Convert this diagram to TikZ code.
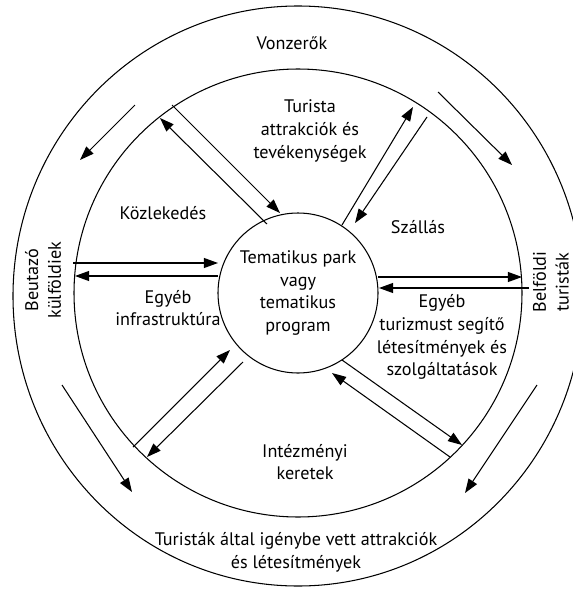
\documentclass[tikz,border=0pt]{standalone}
\usepackage{fontspec}
\setmainfont{PT Sans}
\usetikzlibrary{arrows.meta}
\tikzset{
	ring/.style={line width=0.9pt},
	flow/.style={line width=0.9pt, -{Triangle[length=12pt,width=8.5pt]}},
	lbl/.style={align=center, inner sep=0pt, font=\fontsize{15.5}{19.5}\selectfont},
}

\begin{document}
\begin{tikzpicture}[x=0.3mm, y=-0.3mm]
	%%%%% START %%%%%
	\useasboundingbox (0,0) rectangle (573,590);
	\clip (0,0) rectangle (573,590);
	
	\draw[ring] (298,296) ellipse (285 and 290);
	\draw[ring] (298,293) circle (224);
	\node[draw, circle, ring, minimum size=48mm, lbl] (hub) at (298,293) {Tematikus park\\vagy\\tematikus\\program};
	
	\node[lbl] (vonz) at (292,43) {Vonzerők};
	\node[lbl] (tur) at (310,131) {Turista\\attrakciók és\\tevékenységek};
	\node[lbl] (kozl) at (163,213) {Közlekedés};
	\node[lbl] (szal) at (418,227) {Szállás};
	\node[lbl] (infra) at (168,308) {Egyéb\\infrastruktúra};
	\node[lbl] (egyeb) at (442,337) {Egyéb\\turizmust segítő\\létesítmények és\\szolgáltatások};
	\node[lbl] (intez) at (305,462) {Intézményi\\keretek};
	\node[lbl] (igeny) at (296,552) {Turisták által igénybe vett attrakciók\\és létesítmények};
	\node[lbl, rotate=90] (kulf) at (43,280) {Beutazó\\külföldiek};
	\node[lbl, rotate=90] (belf) at (551,282) {Belföldi\\turisták};
	
	%% ends on the rings
	\coordinate (l1) at (73,263);   \coordinate (l2) at (218,263);
	\coordinate (l3) at (218,276);  \coordinate (l4) at (75,276);
	\coordinate (r1) at (378,277);  \coordinate (r2) at (522,277);
	\coordinate (r3) at (529,288);  \coordinate (r4) at (379,288);
	\coordinate (ul1) at (172,105); \coordinate (ul2) at (280,213);
	\coordinate (ul3) at (267,224); \coordinate (ul4) at (160,118);
	\coordinate (ur1) at (342,225); \coordinate (ur2) at (413,107);
	\coordinate (ur3) at (427,117); \coordinate (ur4) at (355,223);
	\coordinate (ll1) at (133,447); \coordinate (ll2) at (230,350);
	\coordinate (ll3) at (243,362); \coordinate (ll4) at (147,457);
	\coordinate (lr1) at (342,360); \coordinate (lr2) at (462,445);
	\coordinate (lr3) at (450,457); \coordinate (lr4) at (332,373);
	
	\draw[flow] (l1) -- (l2);
	\draw[flow] (l3) -- (l4);
	\draw[flow] (r1) -- (r2);
	\draw[flow] (r3) -- (r4);
	\draw[flow] (ul1) -- (ul2);
	\draw[flow] (ul3) -- (ul4);
	\draw[flow] (ur1) -- (ur2);
	\draw[flow] (ur3) -- (ur4);
	\draw[flow] (ll1) -- (ll2);
	\draw[flow] (ll3) -- (ll4);
	\draw[flow] (lr1) -- (lr2);
	\draw[flow] (lr3) -- (lr4);
	
	%% outer ring
	\coordinate (o1) at (135,105);  \coordinate (o2) at (80,160);
	\coordinate (o3) at (438,92);   \coordinate (o4) at (512,165);
	\coordinate (o5) at (62,385);   \coordinate (o6) at (132,492);
	\coordinate (o7) at (537,385);  \coordinate (o8) at (465,493);
	\draw[flow] (o1) -- (o2);
	\draw[flow] (o3) -- (o4);
	\draw[flow] (o5) -- (o6);
	\draw[flow] (o7) -- (o8);
	%%%%% END %%%%%
\end{tikzpicture}
\end{document}
